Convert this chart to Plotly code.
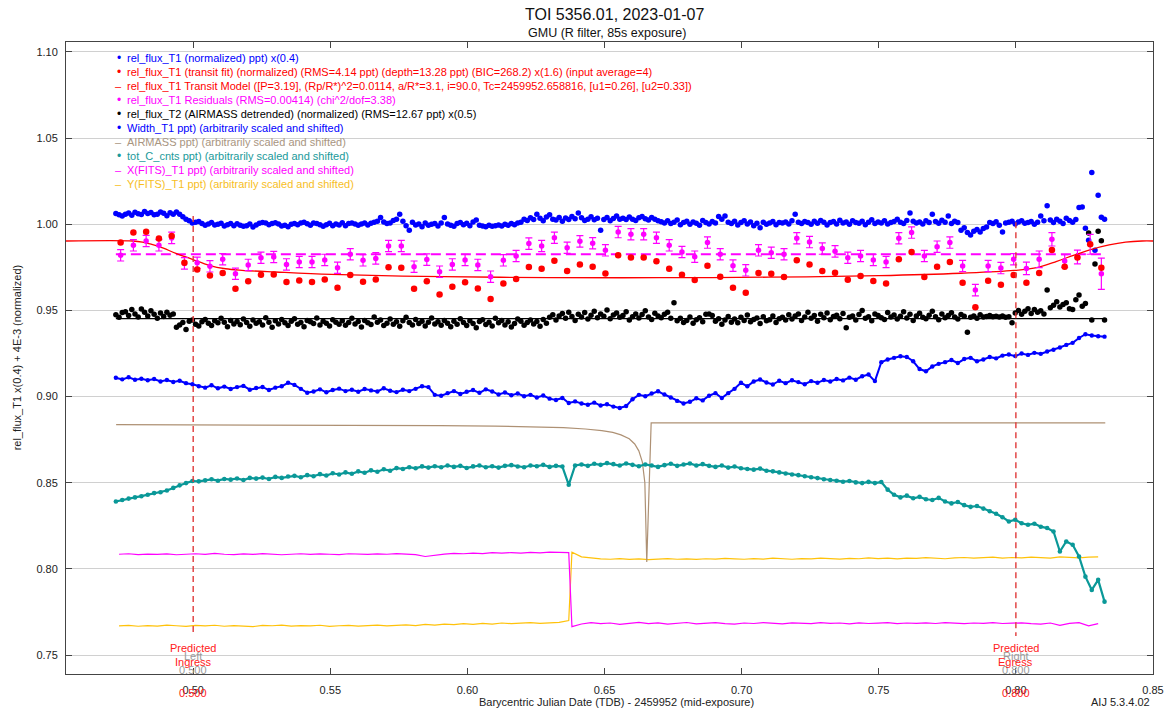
import numpy as np
import plotly.graph_objects as go

# ---------------- data ----------------
# time axis: BJD_TDB - 2459952, exposures every ~100 s
t_start = 0.4718
cadence = 0.001163

# rel_flux_T1 (normalized) x(0.4): offsets from 1.000 in units of 1e-4
rel_flux_T1 = [
    62, 55, 48, 58, 66, 52, 70, 61, 57, 74, 63, 68, 55, 59, 72, 64, 49, 67, 58, 71,
    58, 44, 30, 20, 8, 12, 16, 4, -6, 2, 10, -4, 0, 6, -10, -2, 4, -8, 3, -5,
    -12, -8, 2, -15, -4, 6, 10, 8, -3, 5, 9, 2, -10, -6, -14, 0, 4, -2, 7, 12,
    3, -6, 8, 5, -3, -12, -2, 6, -8, 1, -4, 9, -9, 4, 7, 2, -5, 1, 8, -4,
    6, 12, 18, 40, 14, 5, 8, 22, 30, 58, 18, -8, -34, 12, -4, 2, -14, 8, -6, 0,
    5, -10, 8, 40, 2, -6, -12, 4, 10, -3, 6, -8, 14, 25, -5, -10, -14, -6, -12, -8,
    -4, -10, 0, -6, 4, -2, 8, 12,
    30, 22, 38, 28, 58, 35, 20, 42, 55, 30, 25, 40, 18, 36, 28, 45, 32, 65, 38, 22,
    30, 44, 26, 35, -34, 28, 40, 20, 34, 48, 30,
    35, 28, 42, 30, 22, 38, 45, 32, 25, 40, 30, 20,
    15, 8, 20, 4, 12, 25, -2, 10, 18, 0, 14, 6, -6, 22, 10, 2, 16, 8, 45, 30,
    48, 12, 5, 18, -4, 10, 20, 2, 14, -8, 6, -20, 12, 0, 8, 16, -2, 10,
    8, 14, 2, 20, 58, 12, 4, 16, 10, 0, 18, 6, 22, 12, -4, 10, 16, 2, 24, 8,
    14, 0, 20, 10, 6, 18, -2, 12, 26, 4, 14, 8, 20, 2, 10, 16, 30, 12, 4, 22,
    65, 18, 8, 14, 2, 20, 10, 58, 16, 6, 24, 12, 48, 4, 18, 10,
    -35, -20, -48, -62, -40, -30, -45, -25, -15,
    10, 5, 15, -5, -44, 8, 12, 18, 2, 14, 20, 6, 10, 16, 0, 12,
    48, 20, 107, 25, 10, 30, 18, 5, 35, 22, 12, 28, 97,
    100, -23, -93, 300, -151, 169, 41, 30,
]

# rel_flux_T2 (AIRMASS detrended) x(0.5): offsets from 0.945 in units of 1e-4
rel_flux_T2 = [
    25, 10, 38, 42, 20, 55, 30, 12, 58, 40, 18, 48, 28, 5, 35, 15, 40, 22, 30,
    -48, -35, -20, -60, -12, -5, -30, -40, -15, -2, -25, -38, -10, -22, 5, -18, -45, -8, -28, -14, -33, 0,
    -20, -42, -6, -25, -15, -35, 8, -18, -48, -10, -28, -3, -22, -38, -12, 2, -30, -20, -44, -8,
    -16, -26, 6, -34, -12, -24, -40, -4, -18, -30,
    -10, -36, -20, 4, -28, -14, -46, -8, -22, -32, 12, -18, -6, -38, -24, 0, -30, -16, -42, -10,
    10, -20, -34, -2, -26, -12, -40, -18, 6, -28,
    -16, -36, -8, -24, -44, -12, -30, 2, -20, -38, -10, -26, -50, -14, -4, -32, -18, -40, 4, -22,
    -8, -34, -16, -46, -26, 0, -12, -36, -20, -6, -28, -14, -42, -2, -24,
    10, 25, -5, 18, 32, 5, 40, 15, -8, 28, 12, 38, 0, 22, 45, 8, 30, 16, 52, 2,
    24, 35, 10, 20, 42, -6, 14, 30, 6, 26, 48, 12, -2, 34, 18, 8, 28, 40, 4,
    95, -10, 5, -20, -8, 12, -25, -4, 8, -15, 28, 30, 20, -12, 2, -30, -6, 15, -18, 0,
    -22, 10, -8, 24, -16, -2, 6, -26, 14, -10, -4, 18, -20, 2,
    10, -5, 25, 0, 18, 30, -8, 12, 40, 5, 20, -12, 28, 8, 35, -4, 15, 22, 2, 32,
    -51, 10, 18, -6, 26, 50, 4, 14, -10, 30, 20, 8, -2, 38, 12, 24, 0, 16, 42, 6,
    28, -8, 18, 34, 10, 2, 22, 45, 14, -4, 30, 8, 20, 36, 12, 0, 26, 16, -76, 10,
    18, 5, 25, 12, 15, 20, 14, 16, 12, 18, 10, 14, -22,
    35, 50, 28, 45, 60, 32, 55, 40, 48, 30,
    168, 65, 80, 100, 70, 85, 95, 60, 55, 112, 140, 75, 90,
    500, -5, 320, 510, 455, -5,
]
t2_fit_level = 0.9453

# rel_flux_T1 (transit fit), binned by 4
transit_fit = [
    0.9894, 0.9952, 0.9957, 0.9917, 0.9932, 0.9777, 0.9738, 0.9703, 0.9717, 0.9626,
    0.9669, 0.9707, 0.9709, 0.9665, 0.9674, 0.9665, 0.9680, 0.9632, 0.9705, 0.9667,
    0.9680, 0.9750, 0.9748, 0.9626, 0.9669, 0.9593,
    0.9638, 0.9663, 0.9628, 0.9566, 0.9657, 0.9682, 0.9752, 0.9742, 0.9789, 0.9729,
    0.9767, 0.9754, 0.9715, 0.9820, 0.9808, 0.9808, 0.9785, 0.9742, 0.9707, 0.9676,
    0.9760, 0.9696, 0.9632, 0.9603, 0.9717, 0.9713,
    0.9694, 0.9791, 0.9767, 0.9729, 0.9719, 0.9678, 0.9700, 0.9671, 0.9657, 0.9797,
    0.9839, 0.9694, 0.9754, 0.9781, 0.9661, 0.9519, 0.9672, 0.9649, 0.9705, 0.9661,
    0.9717, 0.9851, 0.9754, 0.9808, 0.9884, 0.9748,
]

residuals = [
    0.9820, 0.9878, 0.9903, 0.9878, 0.9921, 0.9773, 0.9777, 0.9756, 0.9797, 0.9713,
    0.9764, 0.9806, 0.9810, 0.9767, 0.9781, 0.9781, 0.9793, 0.9748, 0.9826, 0.9791,
    0.9802, 0.9874, 0.9874, 0.9754, 0.9795, 0.9725,
    0.9767, 0.9793, 0.9764, 0.9696, 0.9791, 0.9816, 0.9888, 0.9874, 0.9922, 0.9864,
    0.9901, 0.9890, 0.9849, 0.9955, 0.9942, 0.9942, 0.9922, 0.9878, 0.9839, 0.9812,
    0.9894, 0.9826, 0.9760, 0.9733, 0.9849, 0.9835,
    0.9826, 0.9919, 0.9897, 0.9859, 0.9843, 0.9806, 0.9816, 0.9793, 0.9781, 0.9919,
    0.9952, 0.9816, 0.9870, 0.9894, 0.9758, 0.9618, 0.9758, 0.9746, 0.9797, 0.9744,
    0.9797, 0.9913, 0.9787, 0.9810, 0.9884, 0.9713,
]
residual_err = [0.0033] * 71 + [0.0036, 0.0048, 0.0039, 0.0037, 0.0040, 0.0058, 0.0091]
residual_level = 0.9826

# transit model curve
model_x = [0.4536, 0.4780, 0.4815, 0.4877, 0.4937, 0.4997, 0.5058, 0.5118, 0.5178,
           0.5300, 0.5504, 0.5910, 0.6300, 0.6700, 0.7100, 0.7500, 0.7800, 0.7993,
           0.8080, 0.8149, 0.8210, 0.8270, 0.8340, 0.8400, 0.8460, 0.8500]
model_y = [0.9903, 0.9903, 0.9896, 0.9870, 0.9831, 0.9797, 0.9762, 0.9742, 0.9733,
           0.9723, 0.9709, 0.9696, 0.9691, 0.9690, 0.9693, 0.9702, 0.9716, 0.9732,
           0.9750, 0.9785, 0.9820, 0.9852, 0.9880, 0.9896, 0.9903, 0.9903]

# Width_T1 (every 2nd exposure): offsets from 0.900 in 1e-4
width_T1 = [
    109, 100, 112, 98, 104, 95, 102, 88, 96, 85, 92, 78, 72,
    60, 52, 66, 48, 58, 44, 55, 62, 40, 50, 56, 38, 52, 60, 80, 68, 45, 22,
    30, 42, 25, 38, 46, 32, 40, 28, 44, 36, 30, 48, 34, 26, 40, 32, 45, 60, 55, 10,
    5, 20, 32, 15, 28, 38, 22, 42, 30, 12, 24, 8, 18, 2,
    10, -5, 6, -12, -20, -8, -37, -28, -40, -47, -35, -52, -44, -58, -66, -55,
    -15, 10, 2, 18, 31, 12, -5, -25, -40,
    -30, -10, -22, 5, 20, -8, 20, 45, 80, 60, 88, 99,
    82, 70, 92, 78, 95, 84, 72, 90, 80, 96, 88, 102, 94, 110, 98, 118, 128,
    90, 200,
    215, 225, 234, 230, 205, 160, 147, 175, 190, 200,
    212, 195, 218, 225, 205, 215, 230, 222, 238, 244,
    235, 250, 242, 254, 248, 262, 272, 285, 300, 312,
    340, 362, 355, 350, 348,
]

# tot_C_cnts (every 2nd exposure): offsets from 0.850 in 1e-4
tot_C_cnts = [
    -109, -100, -92, -85, -78, -70, -60, -55, -45, -30, -15, -2, 10,
    8, 14, 20, 12, 22, 18, 25, 16, 28, 24, 30, 22, 34, 28, 36, 40,
    32, 44, 38, 50, 42, 55, 48, 60, 52, 66, 58, 72, 64, 78, 70, 85, 80, 90, 84, 95,
    88, 96, 90, 100, 92, 98, 86, 95, 100, 90, 96, 88, 98, 102, 94, 90, 100, 96, 104, 92, 98, 94,
    -12,
    100, 106, 98, 110, 104, 114, 108, 100, 112, 104, 96, 106, 100, 92, 102, 110, 98, 106, 112, 100, 108,
    98, 92, 100, 88, 94, 84, 80, 76, 82, 70, 66, 60, 54, 48, 44, 38, 32, 27,
    20, 16, 12, 6, 10, 2, -2, 5, -2, 4, -40,
    -70, -85, -75, -90, -82, -96, -100, -88, -109, -120, -112, -130, -140, -135, -150, -165, -180,
    -200, -225, -215, -235, -244, -238, -255, -263, -283, -399, -341, -360, -428, -545, -622, -564, -690,
]

# X(FITS)_T1 and Y(FITS)_T1 (sampled every 3rd exposure, frame numbers below):
# offsets from 0.800 in 1e-4
x_fits = [
    85, 88, 83, 86, 84, 87, 82, 86, 88, 84, 90, 85, 83, 87, 84, 89, 86, 82, 85, 88,
    84, 87, 85, 83, 88, 86, 84, 87, 85, 89, 86, 83, 72, 80, 86, 90, 88, 92, 89, 94,
    91, 95, 92, 96, 93, 97, 95, 94,
    -335, -320, -312, -318, -314, -322, -316, -310, -318, -313,
    -320, -315, -311, -319, -316, -312, -318, -321, -314, -317,
    -312, -316, -319, -313, -315, -318, -312, -316, -314, -319,
    -313, -317, -315, -312, -318, -314, -316, -313, -317, -312,
    -315, -318, -314, -316, -312, -317, -315, -313, -318, -320,
    -314, -328, -316, -312, -330, -318,
]
y_fits = [
    -331, -328, -333, -329, -332, -326, -330, -334, -328, -331, -327, -333, -329, -331,
    -335, -328, -330, -326, -332, -329, -331, -327, -334, -330, -328, -332, -329, -326,
    -331, -328, -325, -329, -322, -326, -320, -324, -318, -322, -316, -320, -314, -318,
    -315, -312, -316, -313, -310, -300,
    97, 70, 62, 58, 56, 60, 55, 58, 54, 57, 60, 56, 58, 55, 59, 57, 61, 58, 56, 60,
    57, 62, 59, 56, 60, 58, 63, 60, 57, 61, 59, 64, 60, 62, 58, 63, 61, 65, 62, 59,
    64, 66, 62, 65, 68, 63, 66, 64, 68, 65, 62, 70, 66, 64, 68, 70,
]
fits_frames = list(range(1, 143, 3)) + list(range(143, 311, 3))

# AIRMASS (scaled), sampled
airmass_x = [0.4719, 0.5200, 0.5600, 0.5900, 0.6100, 0.6250, 0.6350, 0.6430, 0.6490,
             0.6530, 0.6560, 0.6590, 0.6610, 0.6625, 0.6638, 0.6647, 0.6654, 0.6670,
             0.7000, 0.7600, 0.8326]
airmass_y = [0.8837, 0.8836, 0.8834, 0.8832, 0.8829, 0.8825, 0.8820, 0.8812, 0.8803,
             0.8792, 0.8778, 0.8755, 0.8725, 0.8685, 0.8620, 0.8500, 0.8040, 0.8847,
             0.8847, 0.8847, 0.8847]

predicted_ingress = 0.500
predicted_egress = 0.800

# ---------------- derived coordinates ----------------
t_raw = t_start + cadence * np.arange(311)
x_T1 = t_start + cadence * np.arange(len(rel_flux_T1))
x_T2 = t_start + cadence * np.arange(len(rel_flux_T2))
x_bin = np.array([t_raw[4 * b:4 * b + 4].mean() for b in range(len(transit_fit))])
x_w = t_start + 2 * cadence * np.arange(len(width_T1))
x_c = t_start + 2 * cadence * np.arange(len(tot_C_cnts))
x_xf = t_start + cadence * np.array(fits_frames[:len(x_fits)])
x_yf = t_start + cadence * np.array(fits_frames[:len(y_fits)])

y_T1 = 1.000 + np.array(rel_flux_T1) * 1e-4
y_T2 = 0.945 + np.array(rel_flux_T2) * 1e-4
y_w = 0.900 + np.array(width_T1) * 1e-4
y_c = 0.850 + np.array(tot_C_cnts) * 1e-4
y_xf = 0.800 + np.array(x_fits[:len(x_xf)]) * 1e-4
y_yf = 0.800 + np.array(y_fits[:len(x_yf)]) * 1e-4

# ---------------- colours ----------------
BLUE = "#0000FF"
RED = "#FF0000"
MAG = "#FF00FF"
TEAL = "#0A9898"
TAN = "#AE9174"
GOLD = "#FFC20A"
FONT = "Liberation Sans, Arial, sans-serif"

fig = go.Figure()

fig.add_trace(go.Scatter(x=x_yf, y=y_yf, mode="lines", line=dict(color=GOLD, width=1.2)))
fig.add_trace(go.Scatter(x=x_xf, y=y_xf, mode="lines", line=dict(color=MAG, width=1.2)))
fig.add_trace(go.Scatter(x=airmass_x, y=airmass_y, mode="lines", line=dict(color=TAN, width=1.2)))
fig.add_trace(go.Scatter(x=x_c, y=y_c, mode="lines+markers", line=dict(color=TEAL, width=2.2),
                         marker=dict(color=TEAL, size=4.6)))
fig.add_trace(go.Scatter(x=x_w, y=y_w, mode="lines+markers", line=dict(color=BLUE, width=2.0),
                         marker=dict(color=BLUE, size=4.4)))
fig.add_trace(go.Scatter(x=[x_T2[0], x_T2[-1]], y=[t2_fit_level, t2_fit_level], mode="lines",
                         line=dict(color="#000000", width=1.2)))
fig.add_trace(go.Scatter(x=x_T2, y=y_T2, mode="markers", marker=dict(color="#000000", size=5.5)))
fig.add_trace(go.Scatter(x=x_T1, y=y_T1, mode="markers", marker=dict(color=BLUE, size=5.5)))
fig.add_trace(go.Scatter(x=[x_T1[0], x_T1[-1]], y=[residual_level, residual_level], mode="lines",
                         line=dict(color=MAG, width=2, dash="10px,5px")))
fig.add_trace(go.Scatter(x=model_x, y=model_y, mode="lines", line=dict(color=RED, width=1.3, shape="spline")))
fig.add_trace(go.Scatter(x=x_bin, y=residuals, mode="markers",
                         marker=dict(color=MAG, size=5.5),
                         error_y=dict(type="data", array=residual_err, color=MAG, thickness=1.2, width=3.5)))
fig.add_trace(go.Scatter(x=x_bin, y=transit_fit, mode="markers", marker=dict(color=RED, size=6.5)))
fig.add_trace(go.Scatter(x=[predicted_ingress, predicted_ingress], y=[1.0048, 0.7610], mode="lines",
                         line=dict(color="#E03A3A", width=1.4, dash="6px,4px")))
fig.add_trace(go.Scatter(x=[predicted_egress, predicted_egress], y=[1.0012, 0.7610], mode="lines",
                         line=dict(color="#E03A3A", width=1.4, dash="6px,4px")))

# ---------------- layout ----------------
L, R, T, B = 66, 15, 42, 37
W, H = 1176, 711
PW, PH = W - L - R, H - T - B


def pxx(px):
    return (px - L) / PW


def pxy(py):
    return (H - B - py) / PH


ann = []
ann.append(dict(text="TOI 5356.01, 2023-01-07", x=pxx(619), y=pxy(15), xref="paper", yref="paper",
                showarrow=False, font=dict(size=16, color="#111111", family=FONT), xanchor="center", yanchor="middle"))
ann.append(dict(text="GMU (R filter, 85s exposure)", x=pxx(611), y=pxy(33), xref="paper", yref="paper",
                showarrow=False, font=dict(size=12.5, color="#111111", family=FONT), xanchor="center", yanchor="middle"))
ann.append(dict(text="rel_flux_T1 x(0.4) + 4E-3 (normalized)", x=pxx(17), y=pxy(357), xref="paper", yref="paper",
                showarrow=False, textangle=-90, font=dict(size=11, color="#222222", family=FONT),
                xanchor="center", yanchor="middle"))
ann.append(dict(text="Barycentric Julian Date (TDB) - 2459952 (mid-exposure)", x=pxx(621), y=pxy(702),
                xref="paper", yref="paper", showarrow=False, font=dict(size=11, color="#222222", family=FONT),
                xanchor="center", yanchor="middle"))
ann.append(dict(text="AIJ 5.3.4.02", x=pxx(1160), y=pxy(702), xref="paper", yref="paper", showarrow=False,
                font=dict(size=11, color="#222222", family=FONT), xanchor="right", yanchor="middle"))

legend_rows = [
    ("•", BLUE, "rel_flux_T1 (normalized) ppt) x(0.4)"),
    ("•", RED, "rel_flux_T1 (transit fit) (normalized) (RMS=4.14 ppt) (depth=13.28 ppt) (BIC=268.2) x(1.6) (input average=4)"),
    ("–", RED, "rel_flux_T1 Transit Model ([P=3.19], (Rp/R*)^2=0.0114, a/R*=3.1, i=90.0, Tc=2459952.658816, [u1=0.26], [u2=0.33])"),
    ("•", MAG, "rel_flux_T1 Residuals (RMS=0.00414) (chi^2/dof=3.38)"),
    ("•", "#000000", "rel_flux_T2 (AIRMASS detrended) (normalized) (RMS=12.67 ppt) x(0.5)"),
    ("•", BLUE, "Width_T1 ppt) (arbitrarily scaled and shifted)"),
    ("–", "#A8957F", "AIRMASS ppt) (arbitrarily scaled and shifted)"),
    ("•", "#1A9A9A", "tot_C_cnts ppt) (arbitrarily scaled and shifted)"),
    ("–", MAG, "X(FITS)_T1 ppt) (arbitrarily scaled and shifted)"),
    ("–", "#F7BE1E", "Y(FITS)_T1 ppt) (arbitrarily scaled and shifted)"),
]
for k, (sym, col, txt) in enumerate(legend_rows):
    py = 58.3 + 14.0 * k
    ann.append(dict(text=sym, x=pxx(119), y=pxy(py), xref="paper", yref="paper", showarrow=False,
                    font=dict(size=12 if sym == "•" else 11, color=col, family=FONT),
                    xanchor="center", yanchor="middle"))
    ann.append(dict(text=txt, x=pxx(125), y=pxy(py), xref="paper", yref="paper", showarrow=False,
                    font=dict(size=11, color=col, family=FONT), xanchor="left", yanchor="middle"))

for xv, side, kind in [(predicted_ingress, "Left", "Ingress"), (predicted_egress, "Right", "Egress")]:
    ann.append(dict(text=side, x=xv, y=pxy(656), xref="x", yref="paper", showarrow=False,
                    font=dict(size=11, color="#9a9a9a", family=FONT), xanchor="center", yanchor="middle"))
    ann.append(dict(text="%.3f" % xv, x=xv, y=pxy(670), xref="x", yref="paper", showarrow=False,
                    font=dict(size=11, color="#9a9a9a", family=FONT), xanchor="center", yanchor="middle"))
    ann.append(dict(text="Predicted", x=xv, y=pxy(648.3), xref="x", yref="paper", showarrow=False,
                    font=dict(size=11, color="#FF2020", family=FONT), xanchor="center", yanchor="middle"))
    ann.append(dict(text=kind, x=xv, y=pxy(662.3), xref="x", yref="paper", showarrow=False,
                    font=dict(size=11, color="#FF2020", family=FONT), xanchor="center", yanchor="middle"))
    ann.append(dict(text="%.3f" % xv, x=xv, y=pxy(692.5), xref="x", yref="paper", showarrow=False,
                    font=dict(size=11, color="#FF2020", family=FONT), xanchor="center", yanchor="middle"))

fig.update_layout(
    width=W, height=H,
    margin=dict(l=L, r=R, t=T, b=B),
    paper_bgcolor="white", plot_bgcolor="white",
    showlegend=False,
    font=dict(family=FONT, size=11, color="#222222"),
    annotations=ann,
    xaxis=dict(range=[0.45362, 0.85], tick0=0.5, dtick=0.05, tickformat=".2f",
               showgrid=False, zeroline=False, showline=True, linecolor="#444444", linewidth=1,
               mirror="ticks", ticks="inside", ticklen=6, tickcolor="#444444",
               tickfont=dict(size=11, color="#222222", family=FONT), ticklabelstandoff=6),
    yaxis=dict(range=[0.7390, 1.1058], tick0=0.75, dtick=0.05, tickformat=".2f",
               showgrid=True, gridcolor="#d0d0d0", gridwidth=1, zeroline=False,
               showline=True, linecolor="#444444", linewidth=1,
               mirror="ticks", ticks="inside", ticklen=6, tickcolor="#444444",
               tickfont=dict(size=11, color="#222222", family=FONT), ticklabelstandoff=5),
)

fig.write_html("out.html",
               config={"displayModeBar": False},
               post_script="document.body.style.margin='0px';document.body.style.padding='0px';"
                           "document.body.style.overflow='hidden';")
